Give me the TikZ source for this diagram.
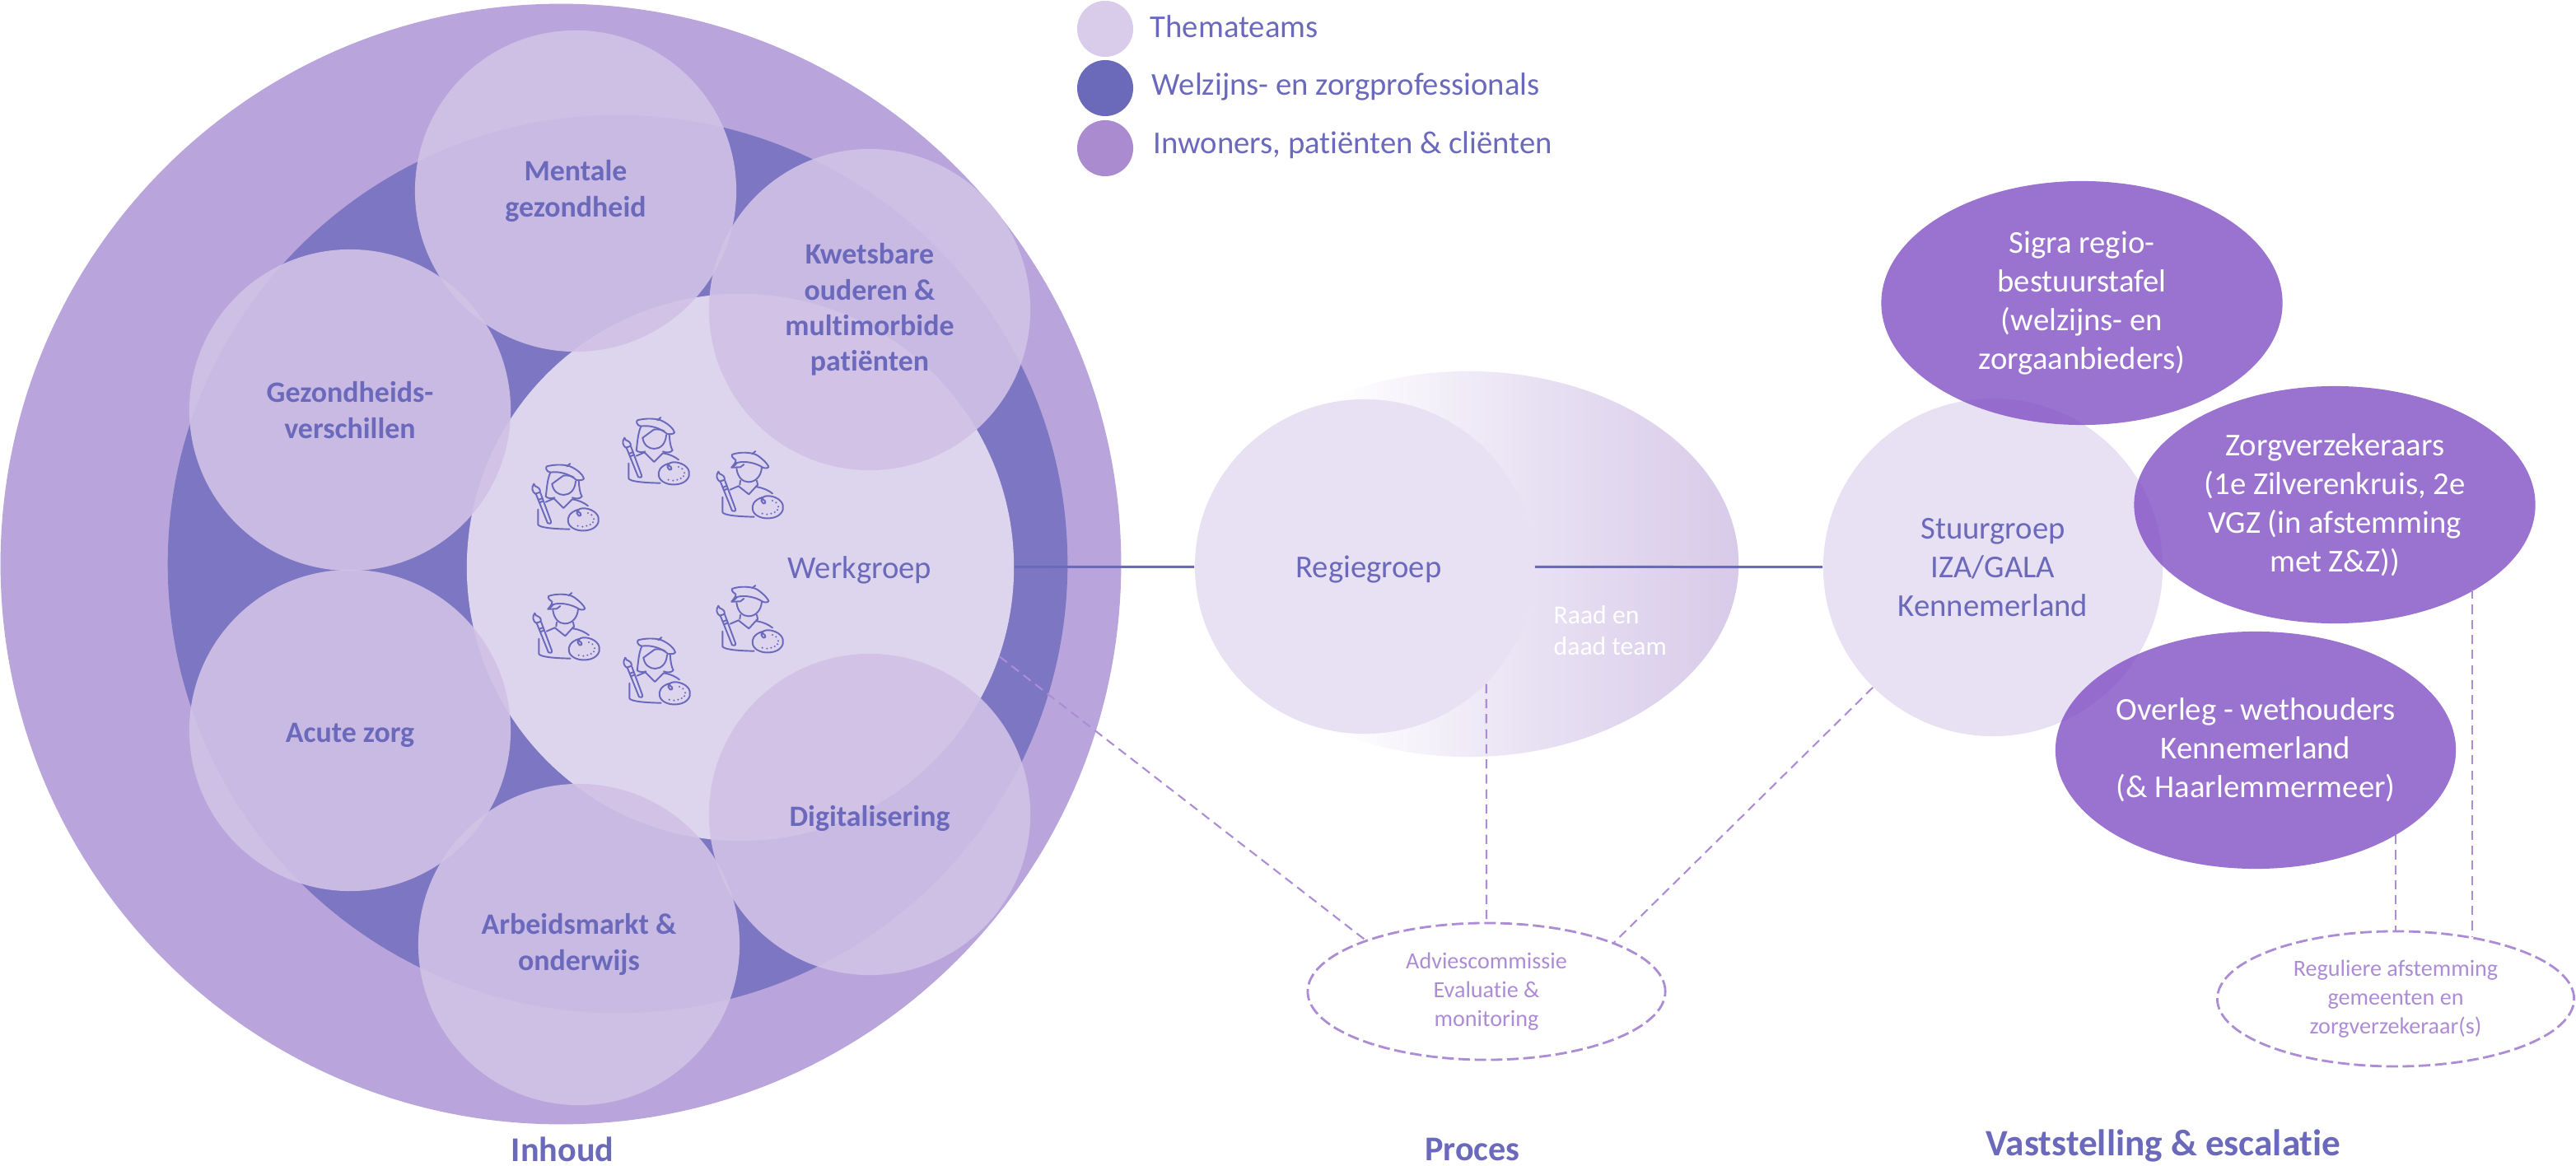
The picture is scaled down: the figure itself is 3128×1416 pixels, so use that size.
\documentclass[tikz,border=0pt]{standalone}
\usepackage{fontspec}
\setmainfont[Ligatures=NoCommon]{Carlito}
\usepackage{xcolor}
\usetikzlibrary{
    shapes.geometric,
    positioning
}
\definecolor{inktblue}{HTML}{6B69BB}
\definecolor{outerpurple}{HTML}{B9A5DB}
\definecolor{bandblue}{HTML}{7D76C3}
\definecolor{werkfill}{HTML}{DDD5EE}
\definecolor{themafill}{HTML}{D1C2E6}
\definecolor{palefill}{HTML}{E8E0F3}
\definecolor{strongfill}{HTML}{814FC4}
\definecolor{dashpurple}{HTML}{AD8CD6}
\definecolor{gradfill}{HTML}{D8CAE9}
\definecolor{gradmid}{HTML}{E8E1F3}
\definecolor{legendone}{HTML}{D9CCEB}
\definecolor{legendtwo}{HTML}{6A69BA}
\definecolor{legendthree}{HTML}{AA8BD0}

\pgfdeclarehorizontalshading{raadshade}{100bp}{color(0bp)=(white); color(37.6bp)=(white); color(56bp)=(gradmid); color(75bp)=(gradfill); color(100bp)=(gradfill)}

% shoulders, body, brush and palette of both artists
\newcommand{\artistbase}{
    \draw (308,388) -- (338,375) (405,378) .. controls (430,382) and (450,392) .. (462,402);
    \draw (280,415) -- (280,470) .. controls (285,482) and (340,486) .. (395,487);
    \draw (272,358) -- (315,465) .. controls (320,470) and (330,466) .. (327,458) -- (288,353);
    \draw (281,380) -- (296,374) (285,390) -- (300,384);
    \draw (270,358) .. controls (258,350) and (255,335) .. (265,322) .. controls (266,330) and (272,332) .. (276,333)
        .. controls (288,338) and (290,350) .. (285,353) -- cycle;
    \draw (425,416) .. controls (395,425) and (385,445) .. (390,462) .. controls (395,485) and (430,497) .. (460,491)
        .. controls (490,486) and (505,465) .. (500,445) .. controls (495,420) and (455,405) .. (432,413)
        .. controls (424,416) and (424,424) .. (434,428) .. controls (440,432) and (436,440) .. (428,438)
        .. controls (420,434) and (420,425) .. (425,416) -- cycle;
    \foreach \x/\y in {462/428, 475/435, 483/450, 480/462, 470/470, 457/475, 442/478, 425/475} {
        \fill (\x,\y) circle (3.5);
    }
}

\tikzset{
    blob/.style 2 args={ellipse, inner sep=0pt, minimum width=#1, minimum height=#2, align=center},
    thema/.style={blob={3.9cm}{3.9cm}, fill=themafill, fill opacity=0.9, text opacity=1, text=inktblue,
        font=\fontsize{10.2}{12.3}\selectfont\bfseries, execute at begin node=\rule{0pt}{10.2pt}},
    pale/.style={fill=palefill, text=inktblue, font=\fontsize{11}{13.4}\selectfont},
    strong/.style={fill=strongfill, fill opacity=0.8, text opacity=1, text=white,
        font=\fontsize{11}{13.4}\selectfont},
    advice/.style={draw=dashpurple, line width=0.8pt, text=dashpurple,
        dash pattern=on 4pt off 1.6pt, font=\fontsize{8}{9.9}\selectfont},
    dashlink/.style={draw=dashpurple, line width=0.6pt, dash pattern=on 3.2pt off 2pt},
    sectiontitle/.style={text=inktblue, font=\fontsize{12}{14}\selectfont\bfseries},
    legendtext/.style={anchor=west, inner sep=0pt, text=inktblue, font=\fontsize{11}{13}\selectfont},
    artiststyle/.style={scale=0.3333, shift={(-258,-248)}, draw=inktblue, fill=inktblue, line width=0.55pt, line join=round, line cap=round},
    artistwoman/.pic={
        \begin{scope}[artiststyle]
            \artistbase
            \draw (312,258) .. controls (340,250) and (385,250) .. (405,262) .. controls (425,272) and (445,290) .. (447,303)
                .. controls (445,308) and (432,310) .. (420,308) .. controls (395,285) and (355,275) .. (325,280)
                .. controls (310,278) and (306,262) .. (312,258) -- cycle;
            \draw (385,258) -- (397,248);
            \draw (325,280) .. controls (312,310) and (312,345) .. (308,368) .. controls (315,375) and (330,376) .. (340,372);
            \draw (428,310) .. controls (430,335) and (432,355) .. (440,368) .. controls (432,376) and (420,378) .. (405,372);
            \draw (331,322) .. controls (335,350) and (355,362) .. (373,362) .. controls (395,362) and (415,345) .. (417,312);
            \draw (331,322) -- (372,292) .. controls (385,290) and (400,292) .. (410,298);
            \draw (338,375) -- (373,410) -- (405,378);
        \end{scope}
    },
    artistman/.pic={
        \begin{scope}[artiststyle]
            \artistbase
            \draw (315,260) .. controls (340,250) and (390,250) .. (410,265) .. controls (430,280) and (445,295) .. (448,305)
                .. controls (445,312) and (430,310) .. (425,306) .. controls (400,290) and (360,282) .. (333,290)
                .. controls (328,298) and (322,302) .. (313,307) .. controls (320,298) and (330,288) .. (328,280)
                .. controls (320,275) and (312,268) .. (315,260) -- cycle;
            \draw (388,258) -- (400,248);
            \draw (313,307) -- (345,306) -- (358,296);
            \draw (331,310) .. controls (335,345) and (355,360) .. (375,360) .. controls (400,360) and (420,340) .. (423,308);
            \draw (345,355) -- (343,370) (405,355) -- (408,370);
            \draw (338,375) -- (376,405) -- (408,370) -- (405,378);
        \end{scope}
    }
}

\begin{document}
\begin{tikzpicture}[x=0.01cm, y=-0.01cm]
    \useasboundingbox (0,0) rectangle (3128,1416);

    % left circle
    \node[blob={13.6cm}{13.6cm}, fill=outerpurple] (outer) at (681,685) {};
    \node[blob={10.92cm}{10.9cm}, fill=bandblue] (band) at (750,685) {};
    \node[blob={6.64cm}{6.64cm}, fill=werkfill] (werk) at (899,689) {};

    \node[thema] (mentale) at (699,232) {Mentale\\gezondheid};
    \node[thema] (kwetsbaar) at (1056,376) {Kwetsbare\\ouderen \&\\multimorbide\\patiënten};
    \node[thema] (gezond) at (425,498) {Gezondheids-\\verschillen};
    \node[thema] (acuut) at (425,887) {Acute zorg};
    \node[thema] (arbeid) at (703,1147) {Arbeidsmarkt \&\\onderwijs};
    \node[thema] (digitaal) at (1056,989) {Digitalisering};

    \node[text=inktblue, font=\fontsize{11}{13.4}\selectfont] (werktext) at (1044,692) {Werkgroep};

    \pic at (646,563) {artistwoman};
    \pic at (756,507) {artistwoman};
    \pic at (757,774) {artistwoman};
    \pic at (870,548) {artistman};
    \pic at (870,711) {artistman};
    \pic at (647,720) {artistman};

    % proces
    \node[blob={6.56cm}{4.68cm}, shading=raadshade] (raad) at (1783,685) {};
    \node[blob={4.12cm}{4.06cm}, pale] (regie) at (1657,688) {};
    \node[text=inktblue, font=\fontsize{11}{13.4}\selectfont] (regietext) at (1662,692) {Regiegroep};
    \node[anchor=west, inner sep=0pt, align=left, text=white, font=\fontsize{9}{10.8}\selectfont] (raadtext) at (1886,766) {Raad en\\daad team};

    % vaststelling
    \node[blob={4.12cm}{4.1cm}, pale] (stuur) at (2420,689) {Stuurgroep\\IZA/GALA\\Kennemerland};
    \node[blob={4.87cm}{2.96cm}, strong] (sigra) at (2528,368) {Sigra regio-\\bestuurstafel\\(welzijns- en\\zorgaanbieders)};
    \node[blob={4.87cm}{2.88cm}, strong] (zorg) at (2835,613) {Zorgverzekeraars\\(1e Zilverenkruis, 2e\\VGZ (in afstemming\\met Z\&Z))};
    \node[blob={4.86cm}{2.88cm}, strong] (overleg) at (2739,911) {Overleg - wethouders\\Kennemerland\\(\& Haarlemmermeer)};

    \node[blob={4.34cm}{1.66cm}, advice] (advies) at (1805,1204) {Adviescommissie\\Evaluatie \&\\monitoring};
    \node[blob={4.33cm}{1.64cm}, advice] (regulier) at (2909,1213) {Reguliere afstemming\\gemeenten en\\zorgverzekeraar(s)};

    % connectors
    \draw[inktblue, line width=0.85pt] (werk) -- (regie);
    \draw[inktblue, line width=0.85pt] (regie) -- (stuur);
    \draw[dashlink] (werk.-19.5) -- (advies.157);
    \draw[dashlink] (regie.-44) -- (advies.north);
    \draw[dashlink] (stuur.-135) -- (advies.21);
    \draw[dashlink] (overleg.-31 -| regulier.north) -- (regulier.north);
    \draw[dashlink] (zorg.-31 -| regulier.39) -- (regulier.39);

    % legend
    \node[blob={0.68cm}{0.68cm}, fill=legendone] (keyone) at (1342,35) {};
    \node[blob={0.68cm}{0.68cm}, fill=legendtwo] (keytwo) at (1342,107) {};
    \node[blob={0.68cm}{0.68cm}, fill=legendthree] (keythree) at (1342,180) {};
    \node[legendtext] (texone) at (1396,32) {Themateams};
    \node[legendtext] (textwo) at (1398,105) {Welzijns- en zorgprofessionals};
    \node[legendtext] (texthree) at (1400,176) {Inwoners, patiënten \& cliënten};

    % titles
    \node[sectiontitle] (inhoud) at (683,1396) {Inhoud};
    \node[sectiontitle] (proces) at (1788,1396) {Proces};
    \node[sectiontitle, font=\fontsize{12.85}{14}\selectfont\bfseries] (vaststelling) at (2627,1391) {Vaststelling \& escalatie};
\end{tikzpicture}
\end{document}
